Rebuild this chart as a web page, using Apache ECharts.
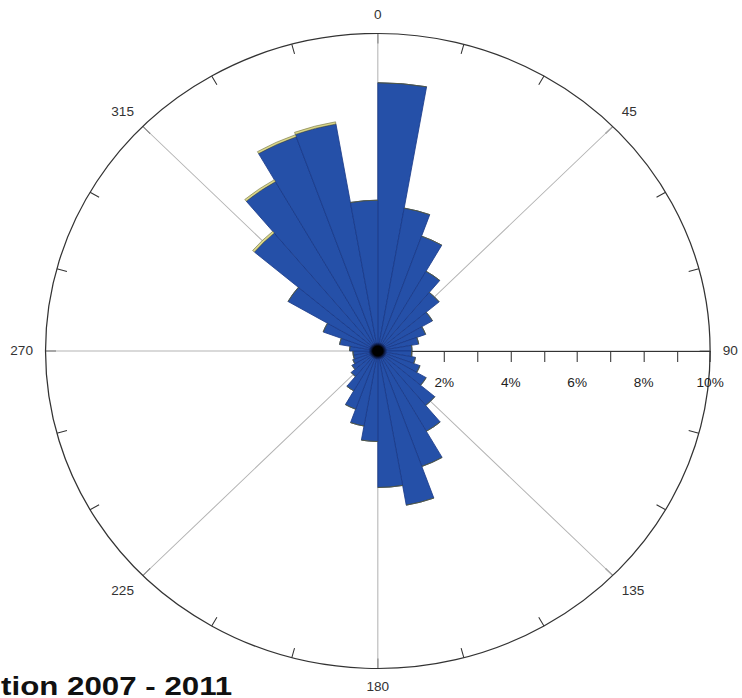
<!DOCTYPE html>
<html>
<head>
<meta charset="utf-8">
<script src="https://cdn.jsdelivr.net/npm/echarts@6/dist/echarts.min.js"></script>
<style>
html,body{margin:0;padding:0;background:#fff;overflow:hidden;width:742px;height:698px;}
#wrap{position:absolute;left:0;top:0;width:742px;height:698px;overflow:hidden;}
#chart{position:absolute;left:0;top:0;width:709px;height:698px;transform:scaleX(1.0466);transform-origin:0 0;}
</style>
</head>
<body>
<div id="wrap"><div id="chart"></div></div>
<script>
// Direction bins (degrees, clockwise from north), 10-degree sectors
const directions = ['0','10','20','30','40','50','60','70','80','90','100','110','120','130','140','150','160','170',
  '180','190','200','210','220','230','240','250','260','270','280','290','300','310','320','330','340','350'];
// Frequency (%) – main class (blue)
const freqMain = [8.45,4.57,3.85,2.90,2.41,1.90,1.53,1.25,1.03,1.02,1.15,1.35,1.68,2.24,2.92,3.87,4.93,4.30,
  2.85,2.40,1.95,1.45,1.05,0.90,0.80,0.75,0.75,0.85,1.17,1.75,3.12,4.85,6.16,7.18,7.26,4.75];
// Frequency (%) – upper class (yellow)
const freqHigh = [0,0,0,0,0,0,0,0,0,0,0,0,0,0,0,0,0,0,
  0,0,0,0,0,0,0,0,0,0,0,0,0,0.07,0.07,0.07,0.07,0];
// Compass labels every 45 degrees, radial tick labels
const compassLabels = ['0','45','90','135','180','225','270','315'];
const radialLabels = ['2%','4%','6%','8%','10%'];
const titleText = 'tion 2007 - 2011';

const CX = 361, CY = 351, R = 317.5, W = 709;
const chart = echarts.init(document.getElementById('chart'), null, {renderer:'svg'});
const font = 'Liberation Sans, Arial, sans-serif';
chart.setOption({
  animation:false,
  backgroundColor:'#fff',
  polar:[{center:[CX,CY],radius:R},{center:[CX,CY],radius:R}],
  grid:{left:CX,right:W-CX-R,top:CY-10,height:10,containLabel:false},
  xAxis:{type:'value',min:0,max:10,interval:1,position:'bottom',
    axisLine:{show:true,onZero:false,lineStyle:{color:'#333',width:1}},
    axisTick:{show:true,length:11,lineStyle:{color:'#333'}},
    splitLine:{show:false},
    axisLabel:{show:true,showMaxLabel:true,color:'#222',fontSize:13,fontFamily:font,margin:25,
      formatter:function(v){ const s=v+'%'; return radialLabels.indexOf(s)>=0?s:''; }},
    z:0},
  yAxis:{type:'value',show:false,min:0,max:1},
  angleAxis:[
    {polarIndex:0,type:'category',data:directions,startAngle:90,clockwise:true,boundaryGap:true,
     axisLine:{show:false},axisTick:{show:false},axisLabel:{show:false},splitLine:{show:false},z:1},
    {polarIndex:1,type:'value',min:0,max:360,interval:45,startAngle:0,clockwise:true,
     axisLine:{show:true,lineStyle:{color:'#333',width:1.2}},
     axisTick:{show:true,inside:true,length:10,lineStyle:{color:'#333',width:1}},
     minorTick:{show:true,splitNumber:3,length:10,lineStyle:{color:'#333',width:1}},
     splitLine:{show:true,lineStyle:{color:'#b4b4b4',width:1}},
     axisLabel:{show:true,margin:12,color:'#333',fontSize:13,fontFamily:font,
       formatter:function(v){ if(v>=360) return ''; const c=(v+90)%360; const s=String(c); return compassLabels.indexOf(s)>=0?s:''; }},
     z:0}
  ],
  radiusAxis:[
    {polarIndex:0,type:'value',min:0,max:10,show:false},
    {polarIndex:1,type:'value',min:0,max:10,interval:1,
     axisLine:{show:false},axisTick:{show:false},axisLabel:{show:false},splitLine:{show:false}}
  ],
  series:[
    {type:'bar',coordinateSystem:'polar',polarIndex:0,stack:'w',data:freqMain,barCategoryGap:'0%',z:3,
     itemStyle:{color:'#2550a8',borderColor:'#1a3a88',borderWidth:0.8}},
    {type:'bar',coordinateSystem:'polar',polarIndex:0,stack:'w',data:freqHigh,barCategoryGap:'0%',z:3,
     itemStyle:{color:'#d9d68a',borderColor:'#5a5a30',borderWidth:0.5}}
  ],
  graphic:[
    {type:'circle',shape:{cx:CX,cy:CY,r:9},z:100,silent:true,
     style:{fill:new echarts.graphic.RadialGradient(0.5,0.5,0.5,[{offset:0,color:'#000'},{offset:0.55,color:'#000'},{offset:1,color:'rgba(0,0,40,0)'}])}},
    {type:'text',x:1,y:697,scaleX:1.15,z:100,silent:true,
     style:{text:titleText,font:'bold 26px "Liberation Sans", Arial, sans-serif',lineHeight:22,fill:'#111',textAlign:'left',textVerticalAlign:'bottom'}}
  ]
});
</script>
</body>
</html>
